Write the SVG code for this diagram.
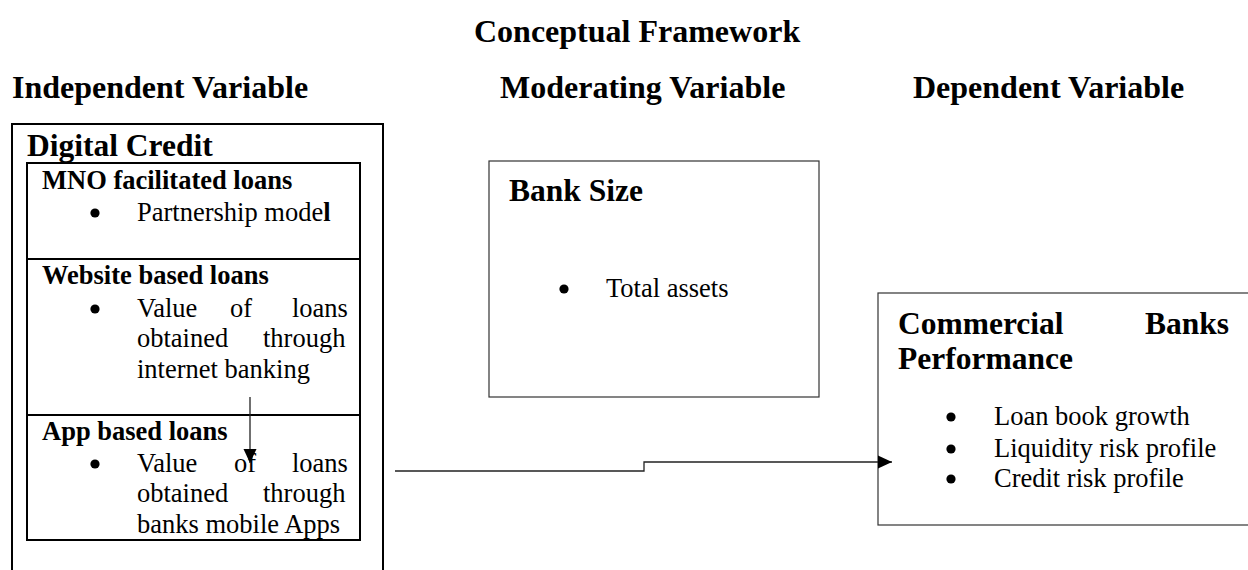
<svg xmlns="http://www.w3.org/2000/svg" width="1248" height="570" viewBox="0 0 1248 570">
  <style>
    text { font-family: "Liberation Serif", "Times New Roman", serif; fill: #000; }
    .head { font-size: 32px; font-weight: bold; }
    .box-title { font-size: 31.5px; font-weight: bold; }
    .sub { font-size: 26.5px; font-weight: bold; }
    .body { font-size: 26.5px; }
    .bullet { fill: #000; }
    .frame { fill: none; stroke: #000; stroke-width: 2; }
    .thin { fill: none; stroke: #333; stroke-width: 1.2; }
    .conn { fill: none; stroke: #222; stroke-width: 1.3; }
  </style>
  <defs>
    <marker id="arrow" markerUnits="userSpaceOnUse" markerWidth="15" markerHeight="14" refX="14" refY="7" orient="auto">
      <path d="M0,0.5 L14,7 L0,13.5 Z" fill="#000"/>
    </marker>
  </defs>

  <rect width="1248" height="570" fill="#fff"/>

  <!-- page headings -->
  <g id="headings">
    <text class="head" x="474" y="42">Conceptual Framework</text>
    <text class="head" x="12" y="98">Independent Variable</text>
    <text class="head" x="500" y="98">Moderating Variable</text>
    <text class="head" x="913" y="98">Dependent Variable</text>
  </g>

  <!-- independent variable: digital credit -->
  <g id="digital-credit">
    <rect class="frame" x="12" y="124" width="371" height="460"/>
    <text class="box-title" x="27" y="156">Digital Credit</text>
    <rect class="frame" x="27" y="163" width="333" height="377"/>
    <line class="frame" x1="27" y1="259" x2="360" y2="259"/>
    <line class="frame" x1="27" y1="415" x2="360" y2="415"/>
  </g>

  <g id="mno-loans">
    <text class="sub" x="42" y="189">MNO facilitated loans</text>
    <circle class="bullet" cx="95" cy="213" r="4.6"/>
    <text class="body" x="137" y="221">Partnership mode<tspan font-weight="bold">l</tspan></text>
  </g>

  <g id="website-loans">
    <text class="sub" x="42" y="284">Website based loans</text>
    <circle class="bullet" cx="95" cy="309" r="4.6"/>
    <text class="body" y="317"><tspan x="137">Value</tspan><tspan x="230">of</tspan><tspan x="292">loans</tspan></text>
    <text class="body" y="347"><tspan x="137">obtained</tspan><tspan x="263">through</tspan></text>
    <text class="body" x="137" y="378">internet banking</text>
  </g>

  <g id="app-loans">
    <text class="sub" x="42" y="440">App based loans</text>
    <circle class="bullet" cx="95" cy="464" r="4.6"/>
    <text class="body" y="472"><tspan x="137">Value</tspan><tspan x="234">of</tspan><tspan x="292">loans</tspan></text>
    <text class="body" y="502"><tspan x="137">obtained</tspan><tspan x="263">through</tspan></text>
    <text class="body" x="137" y="533">banks mobile Apps</text>
  </g>

  <!-- moderating variable -->
  <g id="bank-size">
    <rect class="thin" x="489" y="161" width="330" height="236"/>
    <text class="box-title" x="509" y="201">Bank Size</text>
    <circle class="bullet" cx="564" cy="289" r="4.6"/>
    <text class="body" x="606" y="297">Total assets</text>
  </g>

  <!-- dependent variable -->
  <g id="bank-performance">
    <rect class="thin" x="878" y="293" width="380" height="232"/>
    <text class="box-title" x="898" y="334">Commercial</text>
    <text class="box-title" x="1229" y="334" text-anchor="end">Banks</text>
    <text class="box-title" x="898" y="369">Performance</text>
    <circle class="bullet" cx="951" cy="417" r="4.6"/>
    <text class="body" x="994" y="425">Loan book growth</text>
    <circle class="bullet" cx="951" cy="449" r="4.6"/>
    <text class="body" x="994" y="457">Liquidity risk profile</text>
    <circle class="bullet" cx="951" cy="479" r="4.6"/>
    <text class="body" x="994" y="487">Credit risk profile</text>
  </g>

  <!-- connectors -->
  <g id="connectors">
    <path class="conn" d="M250,397 V463" marker-end="url(#arrow)"/>
    <path class="conn" d="M395,471 H644 V462 H892" marker-end="url(#arrow)"/>
  </g>
</svg>
